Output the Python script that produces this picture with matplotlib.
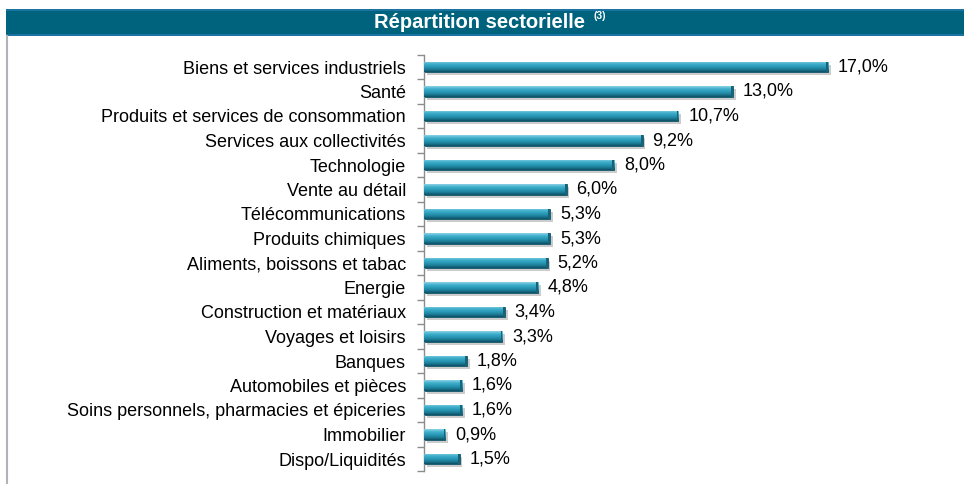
import numpy as np
import matplotlib.pyplot as plt
from matplotlib.colors import LinearSegmentedColormap
from matplotlib.patches import Rectangle

plt.rcParams['font.family'] = ['Liberation Sans', 'DejaVu Sans']

# données
secteurs = ['Biens et services industriels', 'Santé', 'Produits et services de consommation',
            'Services aux collectivités', 'Technologie', 'Vente au détail', 'Télécommunications',
            'Produits chimiques', 'Aliments, boissons et tabac', 'Energie',
            'Construction et matériaux', 'Voyages et loisirs', 'Banques',
            'Automobiles et pièces', 'Soins personnels, pharmacies et épiceries',
            'Immobilier', 'Dispo/Liquidités']
poids = [17.0, 13.0, 10.7, 9.2, 8.0, 6.0, 5.3, 5.3, 5.2, 4.8, 3.4, 3.3, 1.8, 1.6, 1.6, 0.9, 1.5]

fig = plt.figure(figsize=(9.64, 4.84), dpi=100)

# bandeau titre
fig.patches.append(Rectangle((6/964, 1-36/484), 1, 27/484, transform=fig.transFigure,
                             facecolor='#1a73a0', edgecolor='none', zorder=0))
fig.patches.append(Rectangle((6/964, 1-34/484), 1, 23/484, transform=fig.transFigure,
                             facecolor='#00637d', edgecolor='none', zorder=1))
fig.text(480/964, 1-22.5/484, 'Répartition sectorielle', color='white', fontsize=14.5,
         fontweight='bold', ha='center', va='center')
fig.text(594/964, 1-16/484, '(3)', color='white', fontsize=7.5,
         fontweight='bold', ha='left', va='center')
# trait gris à gauche
fig.lines.append(plt.Line2D([6.5/964, 6.5/964], [0, 1-36/484], transform=fig.transFigure,
                            color='#b0b4b8', lw=1.5))

ax = fig.add_axes([424/964, 1-471.25/484, 475.3/964, 416.5/484])
y = np.arange(len(secteurs))
h = 0.42

# ombre
ax.barh(y + 0.12, poids, height=h, left=0.12, color='#cccccc', zorder=1)
bars = ax.barh(y, poids, height=h, color='#2a8fab', edgecolor='#0f5366', lw=0.6, zorder=2)

cmap = LinearSegmentedColormap.from_list('barre', ['#8fd3e6', '#3fb0cc', '#2a9bb8', '#1c7f99', '#0c4e62'])
grad = np.linspace(0, 1, 64).reshape(-1, 1)
for b in bars:
    x0, y0 = b.get_x(), b.get_y()
    w, hh = b.get_width(), b.get_height()
    im = ax.imshow(grad, cmap=cmap, aspect='auto', extent=[x0, x0 + w, y0 + hh, y0],
                   zorder=3, interpolation='bicubic')
    im.set_clip_path(b)
    # bout foncé
    ax.add_patch(Rectangle((x0 + w - 0.07, y0), 0.07, hh, facecolor='#15647a', edgecolor='none', zorder=4))

for yi, v in zip(y, poids):
    ax.text(v + 0.42, yi, f'{v:.1f}%'.replace('.', ','), va='center', ha='left', fontsize=13)

ax.set_xlim(0, 20)
ax.set_ylim(len(secteurs) - 0.5, -0.5)
ax.set_yticks(y)
ax.set_yticklabels(secteurs, fontsize=13)
ax.set_yticks(np.arange(-0.5, len(secteurs)), minor=True)
ax.tick_params(axis='y', which='major', length=0, pad=13)
ax.tick_params(axis='y', which='minor', length=5, color='#8c8c8c', width=1)
ax.set_xticks([])
for s in ['top', 'right', 'bottom']:
    ax.spines[s].set_visible(False)
ax.spines['left'].set_color('#8c8c8c')
ax.spines['left'].set_linewidth(1)

fig.savefig('out.png', dpi=100)
